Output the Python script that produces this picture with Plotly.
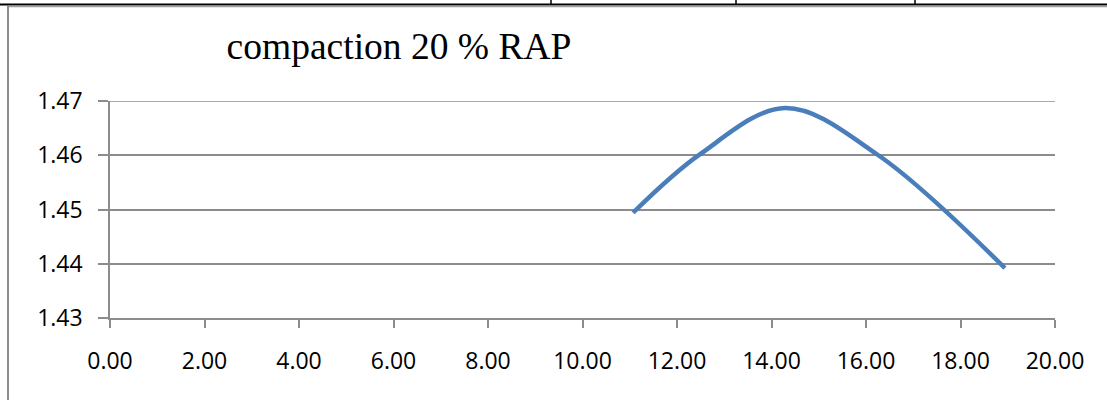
import plotly.graph_objects as go

# data
moisture = [11.07, 12.49, 14.29, 16.26, 18.94]
density = [1.4494, 1.4602, 1.4687, 1.4600, 1.4392]
x_ticks = [0, 2, 4, 6, 8, 10, 12, 14, 16, 18, 20]
y_ticks = [1.43, 1.44, 1.45, 1.46, 1.47]
title_text = "compaction 20 % RAP"

W, H = 1107, 400
L, R, T, B = 110, 52, 101, 82
pw, ph = W - L - R, H - T - B


def px(x):
    return (x - L) / pw


def py(y):
    return (H - B - y) / ph


fig = go.Figure()
fig.add_trace(go.Scatter(
    x=moisture, y=density, mode="lines",
    line=dict(color="#4a7ebb", width=4.5, shape="spline", smoothing=1),
    hoverinfo="skip", showlegend=False,
))

grid = "#8c8c8c"
fig.update_xaxes(
    range=[0, 20], tickvals=x_ticks, ticktext=[f"{v:.2f}" for v in x_ticks],
    showgrid=False, showline=True, linecolor=grid, linewidth=1.5,
    ticks="outside", ticklen=8, tickcolor=grid, tickwidth=1.5,
    ticklabelstandoff=14,
    tickfont=dict(family="Open Sans", size=23, color="#000000"),
    zeroline=False,
)
fig.update_yaxes(
    range=[1.43, 1.47], tickvals=y_ticks, ticktext=[f"{v:.2f}" for v in y_ticks],
    showgrid=True, gridcolor=grid, gridwidth=1.5,
    showline=True, linecolor=grid, linewidth=1.5,
    ticks="outside", ticklen=10, tickcolor=grid, tickwidth=1.5,
    ticklabelstandoff=11,
    tickfont=dict(family="Open Sans", size=23, color="#000000"),
    zeroline=False,
)

shapes = [
    # top gridline at the upper edge of the y range
    dict(type="line", xref="paper", yref="y", x0=0, x1=1, y0=y_ticks[-1], y1=y_ticks[-1],
         line=dict(color=grid, width=1.5), layer="below"),
    # page table line at top
    dict(type="line", xref="paper", yref="paper", x0=px(0), x1=px(W), y0=py(4.5), y1=py(4.5),
         line=dict(color="#000000", width=2)),
    # chart frame top
    dict(type="line", xref="paper", yref="paper", x0=px(8), x1=px(W), y0=py(6.5), y1=py(6.5),
         line=dict(color="#a0a0a0", width=1.5)),
    # chart frame left
    dict(type="line", xref="paper", yref="paper", x0=px(8), x1=px(8), y0=py(6), y1=py(H),
         line=dict(color="#8c8c8c", width=2)),
]
for xv in [551, 736, 915]:
    shapes.append(dict(type="line", xref="paper", yref="paper", x0=px(xv), x1=px(xv),
                       y0=py(0), y1=py(5), line=dict(color="#000000", width=1.5)))

fig.update_layout(
    width=W, height=H,
    margin=dict(l=L, r=R, t=T, b=B),
    paper_bgcolor="#ffffff", plot_bgcolor="#ffffff",
    shapes=shapes,
    title=dict(text=title_text, x=399 / W, xanchor="center", xref="container",
               y=1 - 33 / H, yanchor="top", yref="container",
               font=dict(family="Liberation Serif", size=37.5, color="#000000")),
)

fig.write_html("out.html")
